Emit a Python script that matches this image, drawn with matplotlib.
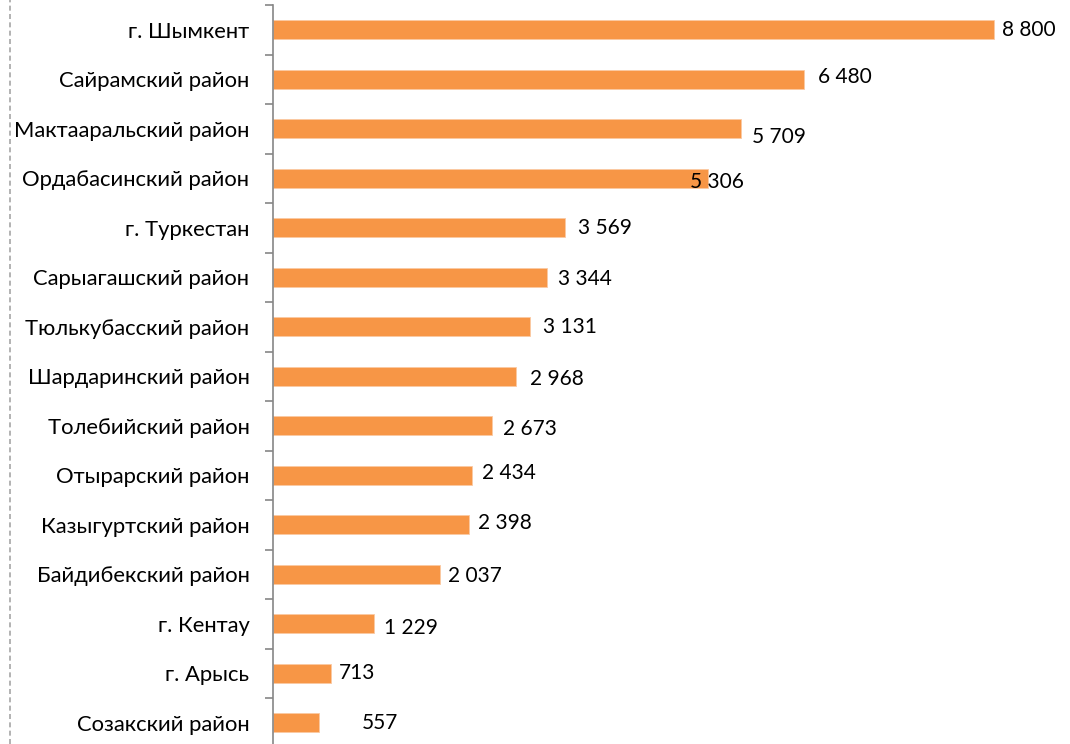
import numpy as np
import matplotlib
matplotlib.use('Agg')
import matplotlib.pyplot as plt
from matplotlib.lines import Line2D

# Данные по районам
districts = ['г. Шымкент', 'Сайрамский район', 'Мактааральский район',
             'Ордабасинский район', 'г. Туркестан', 'Сарыагашский район',
             'Тюлькубасский район', 'Шардаринский район', 'Толебийский район',
             'Отырарский район', 'Казыгуртский район', 'Байдибекский район',
             'г. Кентау', 'г. Арысь', 'Созакский район']
values = [8800, 6480, 5709, 5306, 3569, 3344, 3131, 2968, 2673,
          2434, 2398, 2037, 1229, 713, 557]
value_labels = ['8 800', '6 480', '5 709', '5 306', '3 569', '3 344', '3 131',
                '2 968', '2 673', '2 434', '2 398', '2 037', '1 229', '713', '557']

# смещения подписей (px) как на исходнике
label_dx = [8, 14, 11, -18, 13, 11, 13, 14, 11, 10, 9, 8, 10, 7, 43]
label_dy = [0, 2, -8, -4, 0, -2, 0, -3, -3, 2, 2, -2, -4, 0, 0]

plt.rcParams['font.family'] = ['Lato', 'DejaVu Sans']

W, H = 1070, 744
fig = plt.figure(figsize=(W / 100, H / 100), dpi=100)
ax_left, ax_top, step = 273, 5, 49.5
n = len(districts)
ax_h = step * n
ax = fig.add_axes([ax_left / W, (H - ax_top - ax_h) / H, (W - ax_left) / W, ax_h / H])

y = np.arange(n)
ax.barh(y, values, height=0.39, color='#F79646', edgecolor='#FBC9A3', linewidth=0.6)
ax.set_ylim(n - 0.5, -0.5)
ax.set_xlim(0, (W - ax_left) / 0.08193)

ax.set_yticks(y)
ax.set_yticklabels(districts, fontsize=15.8)
ax.set_yticks(np.arange(n + 1) - 0.5, minor=True)
ax.tick_params(axis='y', which='major', length=0, pad=17)
ax.tick_params(axis='y', which='minor', length=5.5, width=1.2, color='#868686', direction='out')
ax.set_xticks([])

for s in ['top', 'right', 'bottom']:
    ax.spines[s].set_visible(False)
ax.spines['left'].set_color('#868686')
ax.spines['left'].set_linewidth(1.2)

for i, (v, lab) in enumerate(zip(values, value_labels)):
    ax.annotate(lab, (v, i), xytext=(label_dx[i] * 0.72, label_dy[i] * 0.72),
                textcoords='offset points', ha='left', va='center', fontsize=15)

# пунктирная рамка слева
fig.add_artist(Line2D([10 / W, 10 / W], [0, 1], color='#A6A6A6',
                      linestyle=(0, (3, 2)), linewidth=1.2))

fig.savefig('out.png', dpi=100)
